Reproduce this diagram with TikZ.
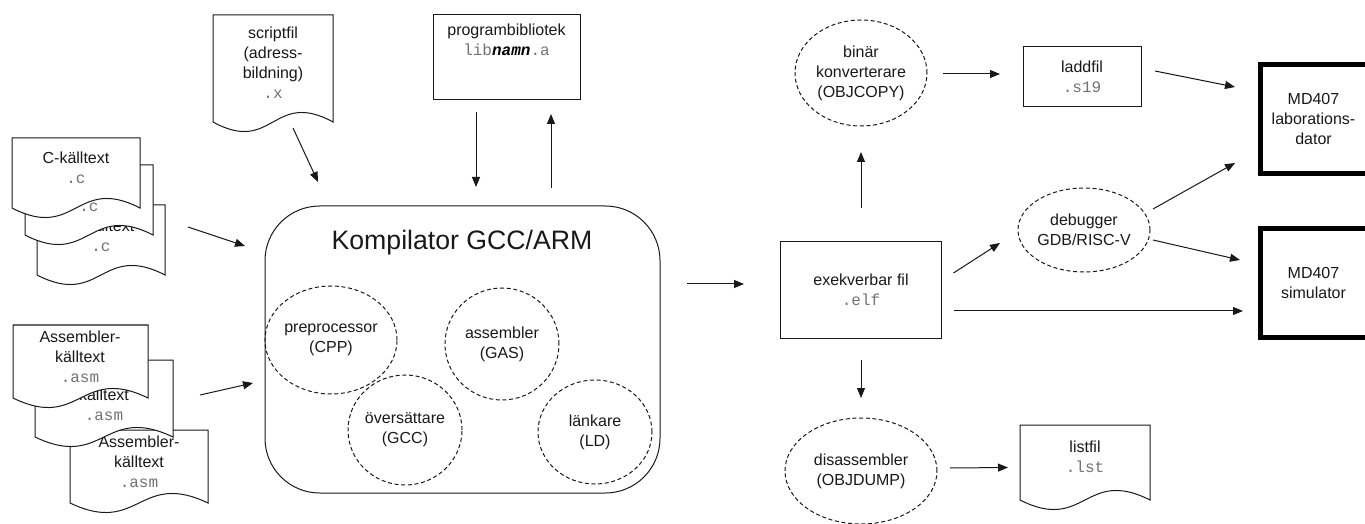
\documentclass[tikz,border=0pt]{standalone}
\usepackage{fontspec}
\setmainfont{Liberation Sans}
\newfontfamily\monofont{Liberation Mono}
\usetikzlibrary{shapes.geometric,arrows.meta,calc}
\newcommand\ext[1]{{\monofont\color{black!55}#1}}
\newcommand\docshape[4]{\path[docfill] (#1,#2) -- (#3,#2) -- (#3,#4) .. controls ({(#1+#3)/2},{#4-33}) and ({(#1+#3)/2},{#4+33}) .. (#1,#4) -- cycle;}
\begin{document}
\begin{tikzpicture}[x=0.75pt,y=-0.75pt,
  line/.style={draw=black!90, line width=0.75pt},
  arr/.style={line, -{Triangle[length=7.5pt,width=6pt]}},
  txt/.style={font=\fontsize{12}{15}\selectfont, align=center, text=black!90, inner sep=0pt, outer sep=0pt},
  docfill/.style={fill=white, draw=black!90, line width=0.75pt},
  proc/.style={txt, ellipse, draw=black!90, line width=0.75pt, dash pattern=on 3pt off 2pt},
  filebox/.style={txt, rectangle, draw=black!90, line width=0.75pt},
  target/.style={txt, rectangle, draw=black, line width=3.75pt}
]
\useasboundingbox (0,0) rectangle (1365,524);

% C source documents
\docshape{37}{205}{165}{275}
\node[txt] (cdocC) at (101,236) {C-källtext\\\ext{.c}};
\docshape{25}{165}{153}{235}
\node[txt] (cdocB) at (89,196) {C-källtext\\\ext{.c}};
\docshape{12}{138}{140}{208}
\node[txt] (cdocA) at (76,168) {C-källtext\\\ext{.c}};

% Assembler source documents
\docshape{70}{430}{208}{503}
\node[txt] (adocC) at (139,462) {Assembler-\\källtext\\\ext{.asm}};
\docshape{35}{360}{173}{437}
\node[txt] (adocB) at (104,395) {Assembler-\\källtext\\\ext{.asm}};
\docshape{13}{325}{148}{398}
\node[txt] (adocA) at (80,357) {Assembler-\\källtext\\\ext{.asm}};

% script file
\docshape{213}{15}{333}{122}
\node[txt] (script) at (273,63) {scriptfil\\(adress-\\bildning)\\\ext{.x}};

% library
\node[filebox, minimum width=110.25pt, minimum height=63.75pt] (lib) at (506.5,57.5) {};
\node[txt] (libtxt) at (506.5,40) {programbibliotek\\{\monofont\color{black!55}lib{\bfseries\itshape\color{black}namn}.a}};

% compiler
\node[line, rectangle, rounded corners=41pt, minimum width=296.25pt, minimum height=215.25pt, outer sep=0pt] (comp) at (462.5,349.5) {};
\node[txt, font=\fontsize{20}{24}\selectfont] (comptitle) at (462,243) {Kompilator GCC/ARM};
\node[proc, minimum width=85.5pt, minimum height=81pt] (pre) at (331,340) {preprocessor\\(CPP)};
\node[proc, minimum width=85.5pt, minimum height=84pt] (gas) at (502,344) {assembler\\(GAS)};
\node[proc, minimum width=85.5pt, minimum height=82.5pt] (gcc) at (405,430) {översättare\\(GCC)};
\node[proc, minimum width=85.5pt, minimum height=78pt] (ld) at (595,432) {länkare\\(LD)};

% right part
\node[filebox, minimum width=120.75pt, minimum height=72pt] (exe) at (861,290) {exekverbar fil\\\ext{.elf}};
\node[proc, minimum width=99pt, minimum height=79.5pt] (bin) at (861,73) {binär\\konverterare\\(OBJCOPY)};
\node[filebox, minimum width=88.5pt, minimum height=45pt] (ladd) at (1082,77) {laddfil\\\ext{.s19}};
\node[proc, minimum width=94.5pt, minimum height=63pt] (dbg) at (1084,230) {debugger\\GDB/RISC-V};
\node[proc, minimum width=114pt, minimum height=79.5pt] (dis) at (861,471) {disassembler\\(OBJDUMP)};
\docshape{1020}{425}{1150}{500}
\node[txt] (list) at (1085,457) {listfil\\\ext{.lst}};
\node[target, minimum width=80.25pt, minimum height=81.75pt] (lab) at (1313.5,119) {MD407\\laborations-\\dator};
\node[target, minimum width=80.25pt, minimum height=81pt] (sim) at (1313.5,283) {MD407\\simulator};

% connectors
\draw[arr] ($(cdocC.center)+(87,-9)$) -- ($(comp.west)+(-20,-103.5)$);
\draw[arr] ($(adocB.center)+(96,0)$) -- ($(comp.west)+(-12,33.5)$);
\draw[arr] ($(script.center)+(20,65)$) -- ($(comp.north west)+(53,-24)$);
\draw[arr] ($(lib.south)+(-30.5,12)$) -- ($(comp.north)+(13.5,-19)$);
\draw[arr] ($(comp.north)+(88.5,-18)$) -- ($(lib.south)+(44.5,14)$);
\draw[arr] ($(comp.east)+(27,-65.5)$) -- ($(exe.west)+(-36.5,-6)$);
\draw[arr] ($(exe.north)+(0,-34)$) -- ($(bin.south)+(0,26)$);
\draw[arr] ($(bin.east)+(16,1)$) -- ($(ladd.west)+(-23,-3)$);
\draw[arr] ($(ladd.east)+(14,-6)$) -- ($(lab.west)+(-25,-32)$);
\draw[arr] ($(exe.east)+(12,-17)$) -- ($(dbg.west)+(-18,13)$);
\draw[arr] ($(dbg.east)+(3,-21)$) -- ($(lab.west)+(-25,44)$);
\draw[arr] ($(dbg.east)+(3,10)$) -- ($(sim.west)+(-20,-23)$);
\draw[arr] ($(exe.east)+(12,21)$) -- ($(sim.west)+(-17,28)$);
\draw[arr] ($(exe.south)+(0,22)$) -- ($(dis.north)+(0,-20)$);
\draw[arr] ($(dis.east)+(13,-3)$) -- ($(list.center)+(-77,10.5)$);
\end{tikzpicture}
\end{document}
